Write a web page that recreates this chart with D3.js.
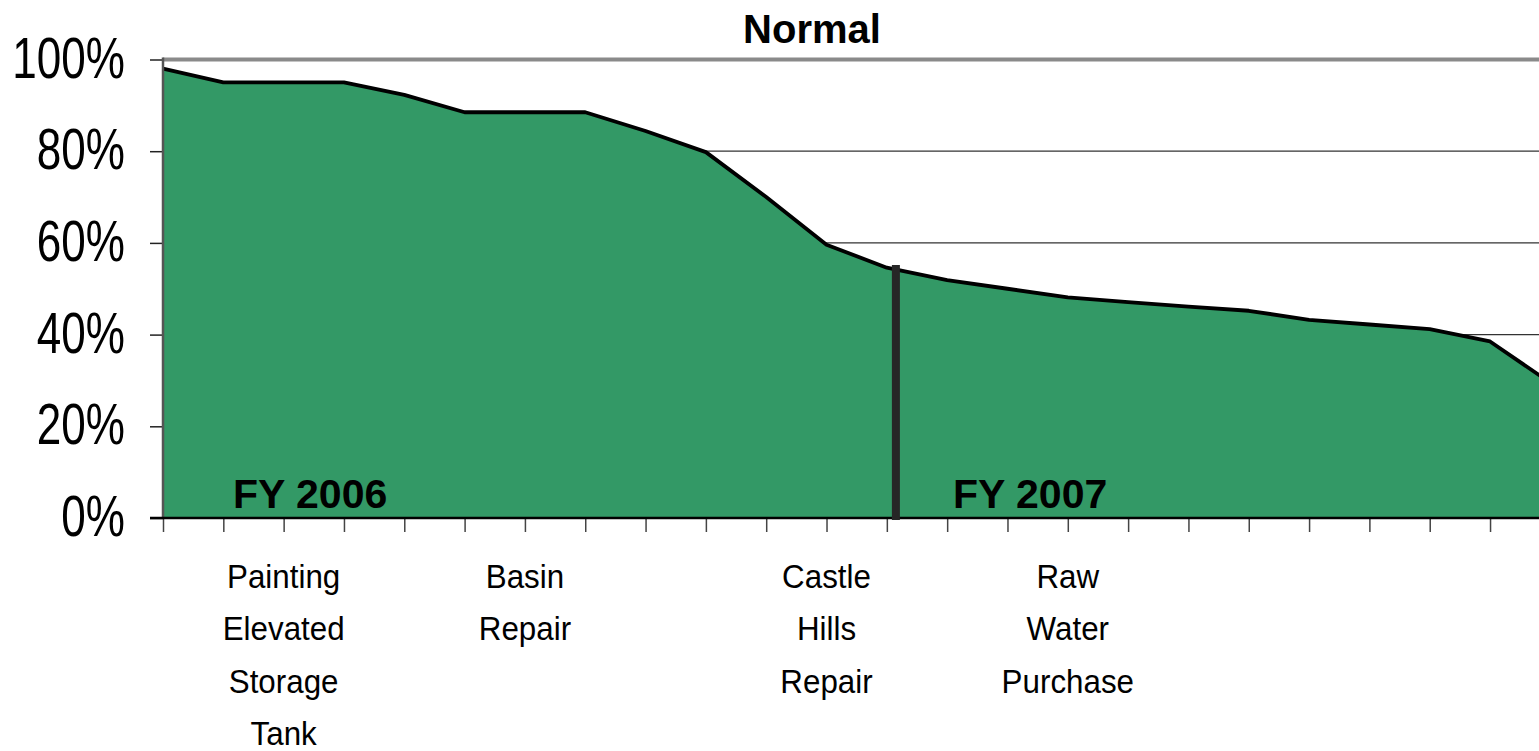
<!DOCTYPE html>
<html>
<head>
<meta charset="utf-8">
<title>Normal</title>
<script type="text/javascript" src="https://d3js.org/d3.v7.min.js"></script>
<style>
body { margin: 0; background: #fff; }
svg { display: block; font-family: "Liberation Sans", Arial, sans-serif; }
</style>
</head>
<body>
<div id="container"></div>
<script>

//----------------------------DATA-------------------------------//
var chartTitle = "Normal";
var percentValues = [98, 95, 95, 95, 92.3, 88.5, 88.5, 88.5, 84.4, 79.8, 70, 59.6,
                     54.6, 51.9, 50, 48.1, 47.1, 46.1, 45.2, 43.2, 42.2, 41.2, 38.5, 29.5];
var categoryKeys = percentValues.map(function(d, i) { return i; });
var yTicks = [0, 20, 40, 60, 80, 100];
var gridTicks = [20, 40, 60, 80];

// project labels under the axis, placed at a category index
var projectLabels = [
    { index: 2,  lines: ["Painting", "Elevated", "Storage", "Tank"] },
    { index: 6,  lines: ["Basin", "Repair"] },
    { index: 11, lines: ["Castle", "Hills", "Repair"] },
    { index: 15, lines: ["Raw", "Water", "Purchase"] }
];
var fiscalYears = ["FY 2006", "FY 2007"];
var fyBoundary = 12.15;   // category position of the fiscal year split

//-------------------------SVG / SCALES--------------------------//
var width = 1539, height = 751;
var plotLeft = 163, step = 60.32;

var svg = d3.select("div#container").append("svg")
    .attr("width", width)
    .attr("height", height);

var xScale = d3.scaleLinear()
    .domain([0, categoryKeys.length - 1])
    .range([plotLeft, plotLeft + step * (categoryKeys.length - 1)]);
var yScale = d3.scaleLinear().domain([0, 100]).range([518, 59.5]);

//----------------------------GRID-------------------------------//
svg.append("g").selectAll("line")
    .data(gridTicks)
    .enter().append("line")
    .attr("x1", plotLeft).attr("x2", width)
    .attr("y1", function(d) { return yScale(d); })
    .attr("y2", function(d) { return yScale(d); })
    .attr("stroke", "#333")
    .attr("stroke-width", 1.2);

svg.append("line")
    .attr("x1", plotLeft).attr("x2", width)
    .attr("y1", yScale(100)).attr("y2", yScale(100))
    .attr("stroke", "#8a8a8a")
    .attr("stroke-width", 4);

//----------------------------AREA-------------------------------//
var area = d3.area()
    .x(function(d, i) { return xScale(i); })
    .y0(yScale(0))
    .y1(function(d) { return yScale(d); });

var line = d3.line()
    .x(function(d, i) { return xScale(i); })
    .y(function(d) { return yScale(d); });

svg.append("path")
    .datum(percentValues)
    .attr("d", area)
    .attr("fill", "#339966");

svg.append("path")
    .datum(percentValues)
    .attr("d", line)
    .attr("fill", "none")
    .attr("stroke", "#000")
    .attr("stroke-width", 3.8)
    .attr("stroke-linejoin", "round");

//----------------------------AXES-------------------------------//
var yaxis = d3.axisLeft(yScale)
    .tickValues(yTicks)
    .tickSize(13)
    .tickFormat(function(d) { return ""; });

var ya = svg.append("g")
    .attr("transform", "translate(" + plotLeft + ",0)")
    .call(yaxis);
ya.select(".domain").remove();
ya.selectAll(".tick line").attr("stroke", "#222").attr("stroke-width", 1.5);

svg.append("line")
    .attr("x1", plotLeft).attr("x2", plotLeft)
    .attr("y1", yScale(100) - 2).attr("y2", yScale(0) + 1)
    .attr("stroke", "#555")
    .attr("stroke-width", 2.5);

svg.append("g").selectAll("text")
    .data(yTicks)
    .enter().append("text")
    .attr("transform", function(d) {
        return "translate(125," + (yScale(d) + 18) + ") scale(0.76,1)";
    })
    .attr("text-anchor", "end")
    .attr("font-size", 58)
    .attr("fill", "#000")
    .text(function(d) { return d + "%"; });

var xaxis = d3.axisBottom(xScale)
    .tickValues(categoryKeys)
    .tickSize(14)
    .tickFormat(function(d) { return ""; });

var xa = svg.append("g")
    .attr("transform", "translate(0," + yScale(0) + ")")
    .call(xaxis);
xa.select(".domain").remove();
xa.selectAll(".tick line").attr("stroke", "#444").attr("stroke-width", 1.5);

svg.append("line")
    .attr("x1", plotLeft - 13).attr("x2", width)
    .attr("y1", yScale(0)).attr("y2", yScale(0))
    .attr("stroke", "#000")
    .attr("stroke-width", 2.5);

//----------------------FISCAL YEAR SPLIT------------------------//
svg.append("line")
    .attr("x1", xScale(fyBoundary)).attr("x2", xScale(fyBoundary))
    .attr("y1", 265).attr("y2", yScale(0) + 2)
    .attr("stroke", "#262626")
    .attr("stroke-width", 8);

svg.append("text")
    .attr("x", 233).attr("y", 508)
    .attr("font-size", 41).attr("font-weight", "bold")
    .text(fiscalYears[0]);

svg.append("text")
    .attr("x", 953).attr("y", 508)
    .attr("font-size", 41).attr("font-weight", "bold")
    .text(fiscalYears[1]);

//---------------------------LABELS------------------------------//
var labelGroups = svg.selectAll("g.proj")
    .data(projectLabels)
    .enter().append("g")
    .attr("class", "proj");

labelGroups.selectAll("text")
    .data(function(d) {
        return d.lines.map(function(t, k) { return { text: t, k: k, x: xScale(d.index) }; });
    })
    .enter().append("text")
    .attr("transform", function(d) {
        return "translate(" + d.x + "," + (588 + d.k * 52.3) + ") scale(0.95,1)";
    })
    .attr("text-anchor", "middle")
    .attr("font-size", 33)
    .text(function(d) { return d.text; });

//----------------------------TITLE------------------------------//
svg.append("text")
    .attr("x", 812).attr("y", 43)
    .attr("text-anchor", "middle")
    .attr("font-size", 40).attr("font-weight", "bold")
    .text(chartTitle);

</script>
</body>
</html>
